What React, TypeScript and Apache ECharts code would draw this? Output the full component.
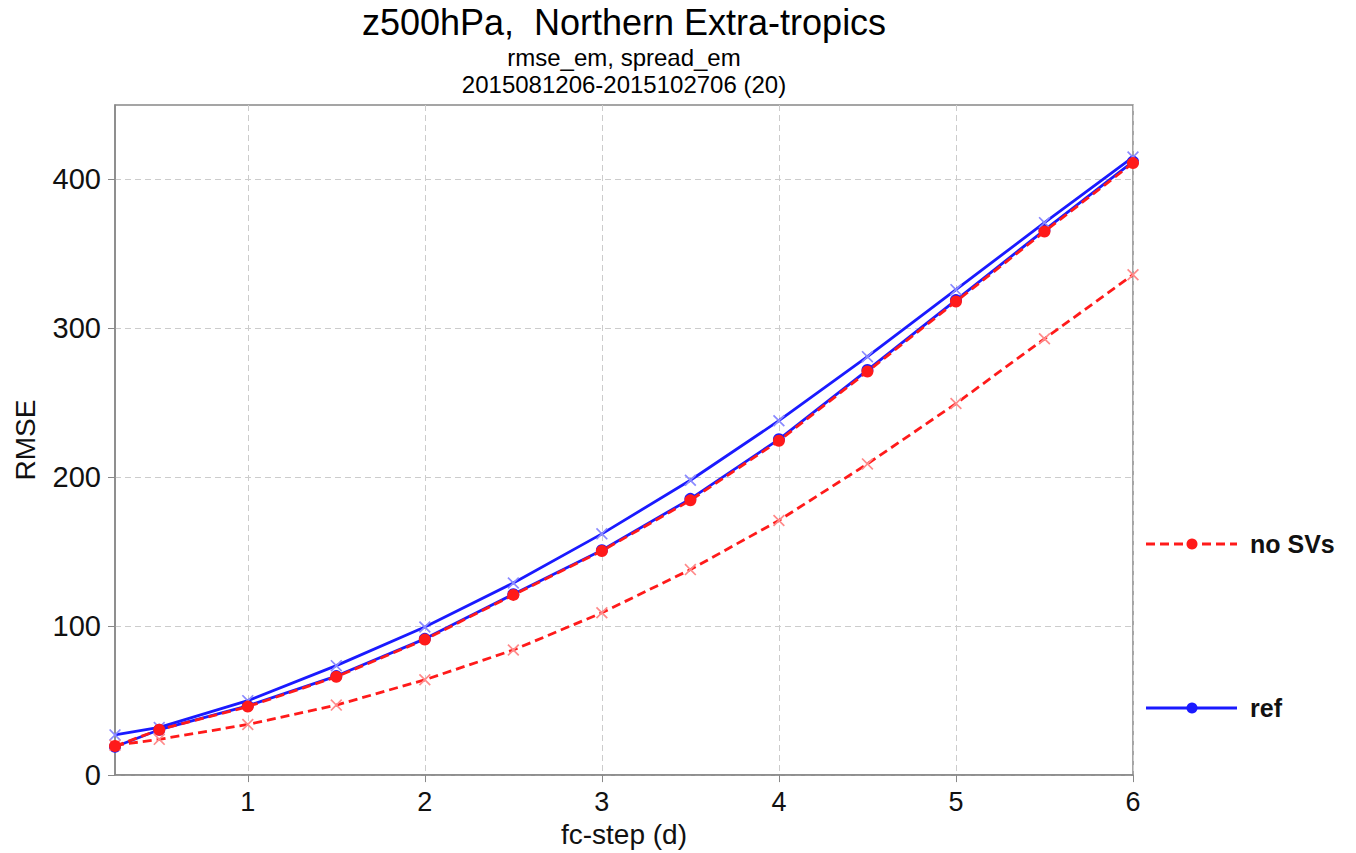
import React, { useEffect, useRef } from "react";
import * as echarts from "echarts";

const steps = [0.25, 0.5, 1, 1.5, 2, 2.5, 3, 3.5, 4, 4.5, 5, 5.5, 6];
const noSvsRmse = [19.5, 30.5, 46, 66, 91, 121, 150.5, 184.5, 224.5, 271, 318, 365, 411];
const noSvsSpread = [20, 24, 34, 47, 64, 84, 109, 138, 171, 209, 249.5, 293, 336];
const refRmse = [19, 30.5, 46.5, 66.5, 91.5, 121.5, 151, 185.5, 225.5, 272, 319, 366, 412];
const refSpread = [27, 32, 50, 73.5, 99.5, 129, 162, 198, 238, 281, 326, 371, 415];
const xTicks = [1, 2, 3, 4, 5, 6];
const yTicks = [0, 100, 200, 300, 400];
const titleLines = ["z500hPa,  Northern Extra-tropics", "rmse_em, spread_em", "2015081206-2015102706 (20)"];
const legendNames = ["no SVs", "ref"];

const FONT = '"Liberation Sans", Arial, Helvetica, sans-serif';
const RED = "#ff1a1a";
const BLUE = "#1a1aff";
const CROSS = "path://M0,1L1,0L5,4L9,0L10,1L6,5L10,9L9,10L5,6L1,10L0,9L4,5Z";

const pair = (ys: number[]) => steps.map((x, i) => [x, ys[i]]);

export default function App() {
  const ref = useRef<HTMLDivElement>(null);
  useEffect(() => {
    if (!ref.current) return;
    const chart = echarts.init(ref.current, null, { renderer: "svg" });
    const legendRows = [
      { y: 544, color: RED, dashed: true, name: legendNames[0] },
      { y: 708, color: BLUE, dashed: false, name: legendNames[1] },
    ];
    const txt = (text: string, y: number, size: number) => ({
      type: "text",
      x: 624,
      y,
      style: { text, font: `${size}px ${FONT}`, fill: "#000", align: "center", verticalAlign: "middle", textAlign: "center", textVerticalAlign: "middle", lineHeight: size },
    });
    const graphic: any[] = [txt(titleLines[0], 22, 36), txt(titleLines[1], 57, 24), txt(titleLines[2], 84, 24)];
    legendRows.forEach((r) => {
      graphic.push({
        type: "line",
        shape: { x1: 1146, y1: r.y, x2: 1237, y2: r.y },
        style: { stroke: r.color, lineWidth: 2.8, lineDash: r.dashed ? [9, 5] : null },
      });
      graphic.push({ type: "circle", shape: { cx: 1192, cy: r.y, r: 5.5 }, style: { fill: r.color } });
      graphic.push({
        type: "text",
        x: 1250,
        y: r.y,
        style: { text: r.name, font: `bold 25px ${FONT}`, fill: "#111", align: "left", verticalAlign: "middle", textAlign: "left", textVerticalAlign: "middle" },
      });
    });

    const lineSeries = (name: string, ys: number[], color: string, dashed: boolean, cross: boolean, z: number) => ({
      name,
      type: "line",
      data: pair(ys),
      z,
      symbol: cross ? CROSS : "circle",
      symbolSize: 12,
      showSymbol: true,
      clip: true,
      lineStyle: { color, width: 2.8, type: dashed ? [9, 5] : "solid" },
      itemStyle: { color: cross ? (color === RED ? "#ff8a8a" : "#8a8aff") : color },
      emphasis: { disabled: true },
    });

    chart.setOption({
      animation: false,
      backgroundColor: "#fff",
      textStyle: { fontFamily: FONT },
      grid: { left: 115, right: 223, top: 105, bottom: 76, show: true, borderColor: "#888", borderWidth: 1.5, containLabel: false },
      graphic,
      xAxis: {
        type: "value",
        min: 0.25,
        max: 6,
        name: "fc-step (d)",
        nameLocation: "middle",
        nameGap: 42,
        nameTextStyle: { fontSize: 28, color: "#111", fontFamily: FONT, verticalAlign: "top" },
        axisLine: { show: true, lineStyle: { color: "#888", width: 1.5 } },
        axisTick: { show: true, length: 7, inside: false, lineStyle: { color: "#888" }, customValues: xTicks },
        axisLabel: { customValues: xTicks, fontSize: 27, color: "#111", margin: 13, fontFamily: FONT },
        splitLine: { show: true, lineStyle: { color: "#cccccc", width: 1, type: [6, 4] } },
      },
      yAxis: {
        type: "value",
        min: 0,
        max: 450,
        name: "RMSE",
        nameLocation: "middle",
        nameGap: 76,
        nameRotate: 90,
        nameTextStyle: { fontSize: 28, color: "#111", fontFamily: FONT },
        axisLine: { show: true, lineStyle: { color: "#888", width: 1.5 } },
        axisTick: { show: true, length: 7, inside: false, lineStyle: { color: "#888" }, customValues: yTicks },
        axisLabel: { customValues: yTicks, fontSize: 29, color: "#111", margin: 14, fontFamily: FONT },
        splitLine: { show: true, lineStyle: { color: "#cccccc", width: 1, type: [6, 4] } },
      },
      series: [
        lineSeries("ref", refRmse, BLUE, false, false, 2),
        lineSeries("ref spread", refSpread, BLUE, false, true, 2),
        lineSeries("no SVs spread", noSvsSpread, RED, true, true, 3),
        lineSeries("no SVs", noSvsRmse, RED, true, false, 4),
      ],
    });
    return () => chart.dispose();
  }, []);
  return <div ref={ref} style={{ position: "absolute", left: 0, top: 0, width: 1356, height: 853 }} />;
}
